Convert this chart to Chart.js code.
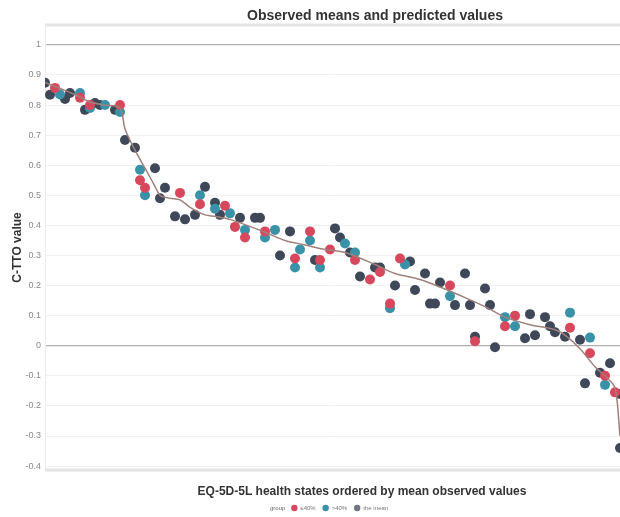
<!DOCTYPE html>
<html>
<head>
<meta charset="utf-8">
<script src="https://cdn.jsdelivr.net/npm/chart.js@4"></script>
<style>
  html, body { margin: 0; padding: 0; background: #fff; overflow: hidden; }
  #wrap { width: 620px; height: 517px; position: relative; }
</style>
</head>
<body>
<div id="wrap"><canvas id="c" width="620" height="517"></canvas></div>
<script>
// ---- data (health-state rank, mean C-TTO value) ----
const chartTitle = "Observed means and predicted values";
const xTitle = "EQ-5D-5L health states ordered by mean observed values";
const yTitle = "C-TTO value";
const legendTitle = "group";
const groupLabels = ["\u226440%", ">40%", "the mean"];
const yTicks = [1, 0.9, 0.8, 0.7, 0.6, 0.5, 0.4, 0.3, 0.2, 0.1, 0, -0.1, -0.2, -0.3, -0.4];

const redX = [2, 7, 9, 15, 19, 20, 27, 31, 36, 38, 40, 44, 50, 53, 55, 57, 62, 65, 67, 69, 71, 81, 86, 92, 94, 105, 109, 112, 114];
const redY = [0.857, 0.824, 0.80, 0.80, 0.55, 0.525, 0.508, 0.47, 0.465, 0.395, 0.36, 0.38, 0.29, 0.38, 0.285, 0.32, 0.285, 0.22, 0.245, 0.14, 0.29, 0.20, 0.015, 0.065, 0.10, 0.06, -0.025, -0.10, -0.155];

const tealX = [3, 7, 9, 12, 15, 19, 20, 31, 34, 37, 40, 44, 46, 50, 51, 53, 55, 60, 62, 69, 72, 81, 92, 94, 105, 109, 112];
const tealY = [0.835, 0.84, 0.79, 0.80, 0.777, 0.585, 0.50, 0.50, 0.455, 0.44, 0.385, 0.36, 0.385, 0.26, 0.32, 0.35, 0.26, 0.34, 0.31, 0.125, 0.27, 0.165, 0.095, 0.065, 0.11, 0.027, -0.13];

const darkX = [0, 1, 4, 5, 8, 10, 11, 14, 16, 18, 22, 23, 24, 26, 28, 30, 32, 34, 35, 39, 42, 43, 47, 49, 54, 58, 59, 61, 63, 66, 67, 70, 73, 74, 76, 77, 78, 79, 82, 84, 85, 86, 88, 89, 90, 96, 97, 98, 100, 101, 102, 104, 107, 108, 111, 113, 115, 115];
const darkY = [0.874, 0.834, 0.82, 0.84, 0.784, 0.807, 0.80, 0.784, 0.684, 0.658, 0.59, 0.49, 0.525, 0.43, 0.42, 0.435, 0.528, 0.475, 0.435, 0.425, 0.425, 0.425, 0.30, 0.38, 0.285, 0.39, 0.36, 0.31, 0.23, 0.26, 0.26, 0.20, 0.28, 0.185, 0.24, 0.14, 0.14, 0.21, 0.135, 0.24, 0.135, 0.03, 0.19, 0.135, -0.005, 0.025, 0.105, 0.035, 0.095, 0.065, 0.045, 0.03, 0.02, -0.125, -0.09, -0.058, -0.16, -0.34];

const predX = [0, 3, 6, 9, 12, 15, 16, 18, 20, 22, 23, 25, 27, 29, 32, 34, 37, 42, 45, 48, 52, 56, 60, 66, 70, 75, 79, 84, 88, 92, 97, 102, 104, 107, 110, 112, 114, 115];
const predY = [0.875, 0.855, 0.835, 0.81, 0.80, 0.79, 0.72, 0.65, 0.59, 0.53, 0.50, 0.49, 0.485, 0.46, 0.435, 0.43, 0.42, 0.39, 0.37, 0.35, 0.335, 0.32, 0.31, 0.27, 0.24, 0.22, 0.195, 0.16, 0.13, 0.095, 0.07, 0.053, 0.035, -0.01, -0.07, -0.10, -0.14, -0.30];

const colors = { red: "#d8485c", teal: "#3a92a9", dark: "#3e4859", line: "#a0807b" };
const zip = (xs, ys) => xs.map((x, i) => ({ x: x, y: ys[i] }));

const decor = {
  id: "decor",
  beforeDatasetsDraw(chart) {
    const { ctx, chartArea: a } = chart;
    ctx.save();
    ctx.strokeStyle = "#e4e4e4";
    ctx.lineWidth = 3;
    ctx.beginPath();
    ctx.moveTo(a.left, a.top); ctx.lineTo(620, a.top);
    ctx.moveTo(a.left, a.bottom); ctx.lineTo(620, a.bottom);
    ctx.stroke();
    ctx.strokeStyle = "#ececec";
    ctx.lineWidth = 1;
    ctx.beginPath();
    ctx.moveTo(a.left + 0.5, a.top); ctx.lineTo(a.left + 0.5, a.bottom);
    ctx.stroke();
    ctx.restore();
  },
  afterDraw(chart) {
    const { ctx } = chart;
    ctx.save();
    ctx.fillStyle = "#333";
    ctx.textAlign = "center";
    ctx.textBaseline = "middle";
    ctx.font = "bold 14px 'Liberation Sans', Arial, sans-serif";
    ctx.fillText(chartTitle, 375, 16);
    ctx.font = "bold 12px 'Liberation Sans', Arial, sans-serif";
    ctx.fillText(xTitle, 362, 492);
    // legend
    const ly = 508;
    ctx.font = "6px 'Liberation Sans', Arial, sans-serif";
    ctx.textAlign = "left";
    ctx.fillStyle = "#666";
    let x = 270;
    ctx.fillText(legendTitle, x, ly);
    x += ctx.measureText(legendTitle).width + 6;
    const cols = [colors.red, colors.teal, "#707780"];
    groupLabels.forEach((lab, i) => {
      ctx.fillStyle = cols[i];
      ctx.beginPath(); ctx.arc(x + 3, ly, 3.2, 0, Math.PI * 2); ctx.fill();
      x += 9;
      ctx.fillStyle = "#777";
      ctx.fillText(lab, x, ly);
      x += ctx.measureText(lab).width + 7;
    });
    ctx.restore();
  }
};

const ptStyle = (c) => ({
  type: "scatter",
  backgroundColor: c,
  borderColor: c,
  pointRadius: 5,
  pointHoverRadius: 5,
  pointBorderWidth: 0
});

new Chart(document.getElementById("c"), {
  type: "scatter",
  data: {
    datasets: [
      Object.assign({ label: "predicted", data: zip(predX, predY), type: "line", showLine: true,
        borderColor: colors.line, borderWidth: 1.5, pointRadius: 0, fill: false, tension: 0.3, order: 0 }),
      Object.assign(ptStyle(colors.dark), { label: groupLabels[2], data: zip(darkX, darkY), order: 3 }),
      Object.assign(ptStyle(colors.teal), { label: groupLabels[1], data: zip(tealX, tealY), order: 2 }),
      Object.assign(ptStyle(colors.red), { label: groupLabels[0], data: zip(redX, redY), order: 1 })
    ]
  },
  options: {
    responsive: false,
    animation: false,
    layout: { padding: { top: 25, bottom: 47, left: 0, right: 0 }, autoPadding: false },
    plugins: { legend: { display: false }, title: { display: false }, tooltip: { enabled: false } },
    scales: {
      x: {
        type: "linear", min: 0, max: 115,
        display: false
      },
      y: {
        type: "linear", min: -0.413, max: 1.066,
        afterBuildTicks: (s) => { s.ticks = yTicks.map(v => ({ value: v })); },
        afterFit: (s) => { s.width = 45; },
        ticks: {
          padding: 4,
          color: "#888",
          font: { size: 9, family: "'Liberation Sans', Arial, sans-serif" },
          callback: (v) => String(Math.round(v * 10) / 10)
        },
        grid: {
          drawTicks: false,
          color: (c) => (c.tick && (c.tick.value === 0 || c.tick.value === 1)) ? "#b0b0b0" : "#f1f1f1",
          lineWidth: (c) => (c.tick && (c.tick.value === 0 || c.tick.value === 1)) ? 1.3 : 1
        },
        border: { display: false },
        title: {
          display: true, text: yTitle, color: "#333",
          font: { size: 12, weight: "bold", family: "'Liberation Sans', Arial, sans-serif" },
          padding: { top: 10, bottom: 2 }
        }
      }
    }
  },
  plugins: [decor]
});
</script>
</body>
</html>
